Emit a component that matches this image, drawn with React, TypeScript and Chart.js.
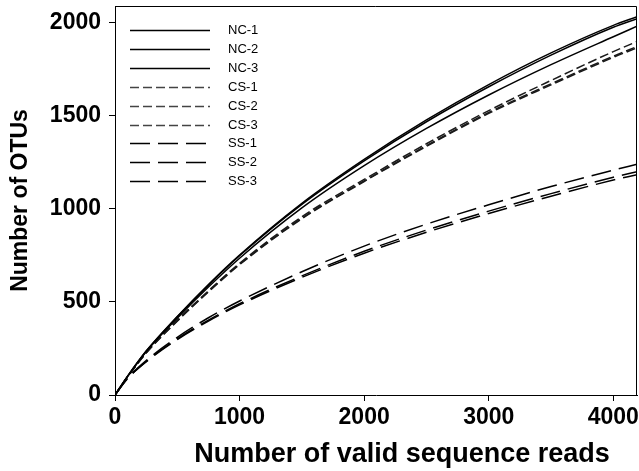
import React, { useEffect, useRef } from "react";
import { Chart, registerables } from "chart.js";

Chart.register(...registerables);

// Number of valid sequence reads (x positions of the rarefaction samples)
const reads = [0, 100, 250, 500, 750, 1000, 1500, 2000, 2500, 3000, 3500, 4000, 4190];

const seriesLabels = ["NC-1", "NC-2", "NC-3", "CS-1", "CS-2", "CS-3", "SS-1", "SS-2", "SS-3"];

// Number of OTUs for each sample
const nc1 = [0, 100, 236, 422, 594, 752, 1030, 1266, 1478, 1668, 1838, 1986, 2032];
const nc2 = [0, 100, 235, 420, 590, 748, 1024, 1258, 1468, 1656, 1826, 1976, 2022];
const nc3 = [0, 98, 232, 413, 580, 735, 1005, 1232, 1432, 1612, 1775, 1925, 1981];
const cs1 = [0, 97, 228, 402, 560, 708, 958, 1158, 1350, 1528, 1690, 1845, 1899];
const cs2 = [0, 96, 226, 399, 556, 703, 950, 1150, 1340, 1518, 1672, 1820, 1872];
const cs3 = [0, 96, 225, 397, 554, 700, 947, 1147, 1336, 1513, 1666, 1814, 1865];
const ss1 = [0, 90, 185, 310, 415, 505, 662, 800, 918, 1022, 1120, 1208, 1240];
const ss2 = [0, 88, 180, 302, 402, 490, 640, 772, 886, 988, 1082, 1170, 1200];
const ss3 = [0, 87, 178, 298, 397, 484, 632, 762, 874, 975, 1068, 1155, 1184];

const seriesValues = [nc1, nc2, nc3, cs1, cs2, cs3, ss1, ss2, ss3];

const xTicks = [0, 1000, 2000, 3000, 4000];
const yTicks = [0, 500, 1000, 1500, 2000];

const xTitle = "Number of valid sequence reads";
const yTitle = "Number of OTUs";

const FONT = "Arial, 'Liberation Sans', Helvetica, sans-serif";

export default function App() {
  const ref = useRef<HTMLCanvasElement>(null);

  useEffect(() => {
    document.body.style.margin = "0";
    const canvas = ref.current;
    if (!canvas) return;

    const styleFor = (label: string) => {
      if (label.startsWith("NC")) return { dash: [] as number[], color: "#000000", legend: "#000000" };
      if (label.startsWith("CS")) return { dash: [9, 4], color: "#1a1a1a", legend: "#444444" };
      return { dash: [20, 8], color: "#000000", legend: "#000000" };
    };

    const datasets = seriesLabels.map((label, i) => {
      const st = styleFor(label);
      return {
        label,
        data: reads.map((x, j) => ({ x, y: seriesValues[i][j] })),
        borderColor: st.color,
        backgroundColor: st.legend,
        borderDash: st.dash,
        borderWidth: 1.5,
        pointRadius: 0,
        fill: false,
        cubicInterpolationMode: "monotone" as const,
      };
    });

    const framePlugin = {
      id: "frameLegendTitle",
      afterDatasetsDraw(chart: any) {
        const { ctx, chartArea } = chart;
        ctx.save();
        ctx.strokeStyle = "#000";
        ctx.lineWidth = 1;
        ctx.setLineDash([]);
        ctx.beginPath();
        ctx.moveTo(chartArea.left, chartArea.top + 0.5);
        ctx.lineTo(chartArea.right - 0.5, chartArea.top + 0.5);
        ctx.lineTo(chartArea.right - 0.5, chartArea.bottom);
        ctx.stroke();

        // legend
        const x0 = 130;
        const x1 = 210;
        const y0 = 30;
        const dy = 18.9;
        chart.data.datasets.forEach((ds: any, i: number) => {
          const y = Math.round(y0 + i * dy) + 0.5;
          ctx.strokeStyle = ds.backgroundColor;
          ctx.lineWidth = 1.3;
          ctx.setLineDash(ds.borderDash || []);
          ctx.beginPath();
          ctx.moveTo(x0, y);
          ctx.lineTo(x1, y);
          ctx.stroke();
          ctx.setLineDash([]);
          ctx.fillStyle = "#000";
          ctx.font = `13px ${FONT}`;
          ctx.textAlign = "left";
          ctx.textBaseline = "middle";
          ctx.fillText(ds.label, 228, y);
        });

        // x axis title
        ctx.fillStyle = "#000";
        ctx.font = `bold 27px ${FONT}`;
        ctx.textAlign = "center";
        ctx.textBaseline = "alphabetic";
        ctx.fillText(xTitle, 402, 462);
        ctx.restore();
      },
    };

    const chart = new Chart(canvas, {
      type: "line",
      data: { datasets },
      options: {
        animation: false,
        responsive: false,
        devicePixelRatio: 1,
        layout: { padding: { top: 6, right: 2, left: 0, bottom: 0 } },
        plugins: {
          legend: { display: false },
          tooltip: { enabled: false },
        },
        scales: {
          x: {
            type: "linear",
            min: 0,
            max: 4190,
            afterFit: (s: any) => {
              s.height = 76;
              s.paddingLeft = 0;
              s.paddingRight = 0;
              s.paddingTop = 0;
              s.paddingBottom = 0;
            },
            afterBuildTicks: (s: any) => {
              s.ticks = xTicks.map((v) => ({ value: v }));
            },
            ticks: {
              color: "#000",
              font: { family: FONT, size: 23, weight: "bold" },
              padding: 3,
              maxRotation: 0,
              autoSkip: false,
              callback: (v: any) => String(v),
            },
            grid: { drawOnChartArea: false, drawTicks: true, tickLength: 6, color: "#000", lineWidth: 1 },
            border: { color: "#000", width: 1 },
          },
          y: {
            type: "linear",
            min: 0,
            max: 2090,
            afterFit: (s: any) => {
              s.width = 115;
              s.paddingLeft = 0;
              s.paddingRight = 0;
              s.paddingTop = 0;
              s.paddingBottom = 0;
            },
            afterBuildTicks: (s: any) => {
              s.ticks = yTicks.map((v) => ({ value: v }));
            },
            ticks: {
              color: "#000",
              font: { family: FONT, size: 23, weight: "bold" },
              padding: 8,
              autoSkip: false,
              callback: (v: any) => String(v),
            },
            title: {
              display: true,
              text: yTitle,
              color: "#000",
              font: { family: FONT, size: 23, weight: "bold" },
              padding: { top: 7, bottom: 0 },
            },
            grid: { drawOnChartArea: false, drawTicks: true, tickLength: 6, color: "#000", lineWidth: 1 },
            border: { color: "#000", width: 1 },
          },
        },
      },
      plugins: [framePlugin],
    });

    return () => chart.destroy();
  }, []);

  return (
    <div style={{ position: "absolute", left: 0, top: 0, width: 639, height: 471 }}>
      <canvas ref={ref} width={639} height={471} />
    </div>
  );
}
